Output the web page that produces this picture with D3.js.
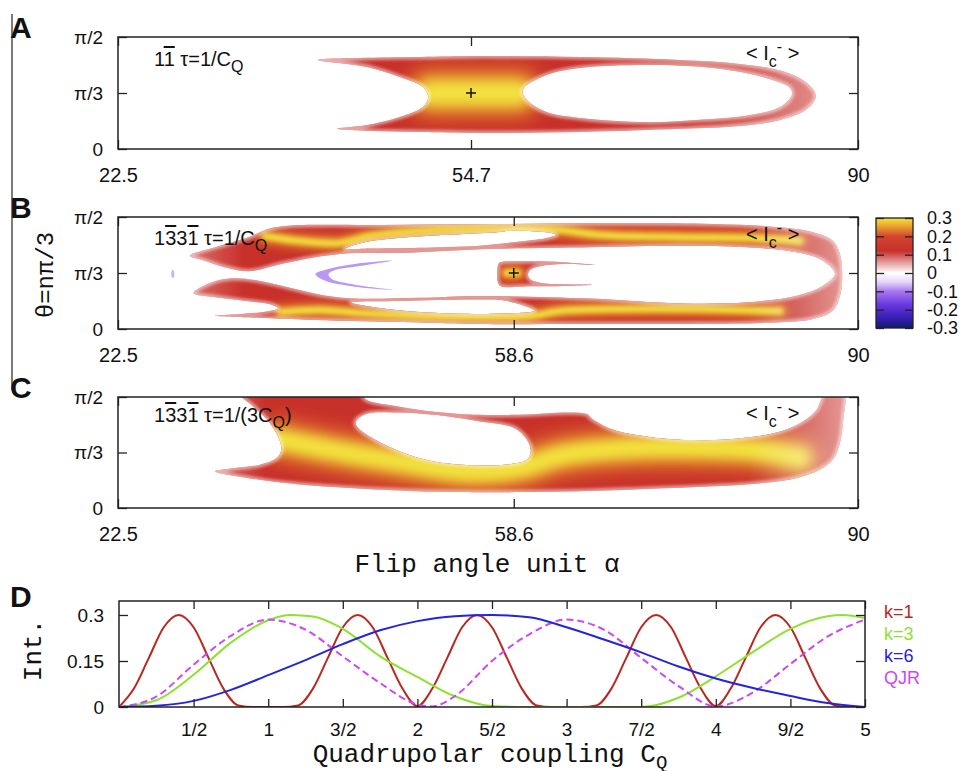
<!DOCTYPE html>
<html>
<head>
<meta charset="utf-8">
<script src="https://cdn.jsdelivr.net/npm/d3@7"></script>
<style>
  body { margin: 0; background: #fff; }
  svg text { font-family: "Liberation Sans", Arial, sans-serif; }
  .mono { font-family: "Liberation Mono", "DejaVu Sans Mono", monospace; }
</style>
</head>
<body>
<svg id="fig" width="960" height="771"></svg>
<script>
// ---------- data ----------
const alphaDomain = [22.5, 90];
const alphaTicksA = [22.5, 54.7, 90];
const alphaTicksBC = [22.5, 58.6, 90];
const thetaTicks = [0, 0.5, 1];
const thetaLabels = ["0", "π/3", "π/2"];

// intensity contours, [flip angle, fraction of theta axis]
const aOuter = [[40.74,0.795],[44.57,0.812],[50.04,0.821],[55.5,0.83],[64.64,0.821],[73.76,0.795],[79.2,0.76],[82.9,0.70],[85.2,0.60],[86.16,0.473],[85.25,0.35],[82.9,0.26],[79.2,0.205],[73.76,0.18],[64.64,0.152],[55.5,0.143],[50.04,0.152],[45.5,0.16],[42.5,0.18],[45.2,0.214],[48.2,0.286],[50.3,0.375],[50.8,0.464],[50.3,0.554],[48.2,0.643],[45.2,0.732]];
const aHole = [[59.4,0.527],[61.6,0.66],[64.64,0.723],[70.7,0.75],[76.8,0.723],[81.3,0.643],[83.8,0.545],[83.97,0.482],[82.9,0.375],[79.9,0.30],[75.3,0.26],[70.7,0.24],[64.64,0.277],[61.6,0.33],[59.8,0.4375]];
const aCore = [[51.0,0.5],[55.3,0.5],[59.0,0.5]];

const bOuter = [[29.07,0.654],[31.35,0.73],[34.4,0.819],[36.2,0.893],[38.0,0.922],[46.55,0.929],[56.9,0.9375],[67.7,0.944],[76.8,0.9375],[82.9,0.908],[85.9,0.863],[87.7,0.788],[88.35,0.67],[88.56,0.49],[88.4,0.3125],[87.7,0.163],[85.9,0.089],[82.9,0.06],[73.76,0.045],[64.6,0.045],[55.5,0.045],[49.6,0.06],[40.5,0.08],[34.4,0.104],[31.35,0.119],[33.8,0.134],[36.2,0.158],[37.1,0.185],[36.5,0.217],[34.4,0.247],[31.35,0.283],[29.4,0.321],[31.05,0.417],[32.9,0.453],[35.0,0.4375],[38.0,0.372],[41.1,0.304],[44.1,0.272],[50.0,0.278],[55.5,0.295],[65.55,0.272],[73.76,0.228],[79.9,0.238],[84.4,0.297],[86.8,0.387],[87.9,0.49],[86.8,0.61],[84.4,0.685],[79.9,0.73],[73.76,0.744],[65.55,0.73],[55.5,0.712],[48.2,0.679],[43.5,0.676],[40.5,0.64],[37.4,0.58],[34.4,0.515],[32.3,0.55],[30.4,0.61]];
const bHoleUp = [[43.2,0.714],[45.0,0.774],[48.1,0.8125],[52.6,0.842],[56.9,0.862],[58.6,0.878],[61.6,0.863],[62.45,0.842],[61.6,0.8125],[58.6,0.774],[55.5,0.744],[50.0,0.725],[45.5,0.718]];
const bHoleLow = [[43.8,0.237],[48.2,0.25],[55.5,0.263],[58.0,0.25],[60.5,0.163],[57.3,0.138],[55.5,0.134],[50.0,0.152],[46.4,0.1875]];
const bIsland = [[57.34,0.595],[60.1,0.604],[63.1,0.595],[66.0,0.571],[63.1,0.58],[61.0,0.56],[60.1,0.527],[59.9,0.485],[60.1,0.444],[61.0,0.413],[63.1,0.399],[65.7,0.396],[63.1,0.384],[60.1,0.381],[57.34,0.387],[57.1,0.446],[57.1,0.52],[57.2,0.58]];
const bNegArc = [[47.46,0.61],[44.1,0.58],[41.7,0.536],[40.5,0.49],[41.4,0.43],[44.1,0.378],[47.8,0.348],[44.1,0.396],[42.0,0.446],[41.7,0.49],[42.3,0.527],[44.1,0.556]];
const bNegDot = [27.5, 0.49];
const bCoreUp = [[35.9,0.83],[39.1,0.786],[42.7,0.768],[45.5,0.83],[50.0,0.875],[55.5,0.893],[61.9,0.893],[66.5,0.84],[73.8,0.82],[80.1,0.8125],[84.7,0.786]];
const bCoreLow = [[37.3,0.152],[40.9,0.17],[44.6,0.143],[50.0,0.116],[55.5,0.107],[60.1,0.116],[62.8,0.16],[68.3,0.179],[75.6,0.179],[82.9,0.16]];
const bCoreIsland = [[57.9,0.5],[59.0,0.5]];

const cOuter = [[33.6,1.03],[44.6,1.03],[45.2,0.973],[48.2,0.913],[51.3,0.868],[55.5,0.839],[58.6,0.839],[65.2,0.848],[65.8,0.80],[67.7,0.704],[70.7,0.644],[73.76,0.614],[78.3,0.62],[82.3,0.674],[84.7,0.764],[86.2,0.883],[87.0,1.03],[88.7,1.03],[88.65,0.794],[88.35,0.585],[87.7,0.435],[86.5,0.345],[84.4,0.271],[81.4,0.226],[76.8,0.196],[70.7,0.172],[64.6,0.151],[55.5,0.142],[51.3,0.148],[45.2,0.172],[39.1,0.211],[34.8,0.262],[31.35,0.33],[33.0,0.357],[35.45,0.39],[36.97,0.45],[37.4,0.525],[37.1,0.644],[36.1,0.794],[34.85,0.913]];
const cHole = [[44.2,0.778],[45.2,0.848],[48.2,0.86],[51.3,0.839],[55.5,0.78],[58.6,0.722],[59.8,0.614],[60.15,0.51],[59.8,0.435],[58.6,0.40],[55.5,0.384],[51.3,0.42],[48.2,0.51],[45.2,0.66],[44.3,0.734]];
const cCore = [[37.3,0.614],[41.8,0.525],[48.2,0.417],[54.6,0.327],[59.2,0.363],[62.8,0.471],[68.3,0.534],[75.6,0.543],[81.1,0.516],[84.7,0.453]];

// colour bar
const cbValues = [0.3, 0.2, 0.1, 0, -0.1, -0.2, -0.3];
const cbLabels = ["0.3", "0.2", "0.1", "0", "-0.1", "-0.2", "-0.3"];
const cbStops = [[0.3,"#f4e63a"],[0.25,"#e89a30"],[0.2,"#d2452e"],[0.12,"#c8302c"],[0.05,"#e8a8a8"],[0,"#ffffff"],[-0.05,"#e4d4fa"],[-0.1,"#a878f2"],[-0.17,"#6a3ae0"],[-0.24,"#3a20b8"],[-0.3,"#141a6e"]];

// panel D
const cqTicks = [0.5, 1, 1.5, 2, 2.5, 3, 3.5, 4, 4.5, 5];
const cqLabels = ["1/2", "1", "3/2", "2", "5/2", "3", "7/2", "4", "9/2", "5"];
const intTicks = [0, 0.15, 0.3];
const intLabels = ["0", "0.15", "0.3"];
const k1 = [[0,0],[0.1,0.06],[0.2,0.16],[0.3,0.26],[0.4,0.30],[0.5,0.26],[0.6,0.16],[0.7,0.06],[0.8,0.005],[0.9,0],[1.0,0],[1.1,0],[1.2,0.005],[1.3,0.06],[1.4,0.16],[1.5,0.26],[1.6,0.30],[1.7,0.26],[1.8,0.16],[1.9,0.06],[2.0,0.003],[2.1,0.06],[2.2,0.16],[2.3,0.26],[2.4,0.30],[2.5,0.26],[2.6,0.16],[2.7,0.06],[2.8,0.005],[2.9,0],[3.0,0],[3.1,0],[3.2,0.005],[3.3,0.06],[3.4,0.16],[3.5,0.26],[3.6,0.30],[3.7,0.26],[3.8,0.16],[3.9,0.06],[4.0,0.003],[4.1,0.06],[4.2,0.16],[4.3,0.26],[4.4,0.30],[4.5,0.26],[4.6,0.16],[4.7,0.06],[4.8,0.005],[4.9,0],[5.0,0]];
const k3 = [[0,0],[0.25,0.022],[0.5,0.105],[0.75,0.21],[1.0,0.283],[1.15,0.30],[1.3,0.295],[1.5,0.255],[1.75,0.165],[2.0,0.098],[2.25,0.035],[2.5,0.003],[2.75,0],[3.0,0],[3.25,0],[3.5,0],[3.75,0.03],[4.0,0.10],[4.25,0.18],[4.5,0.255],[4.75,0.296],[4.85,0.30],[5.0,0.29]];
const k6 = [[0,0],[0.25,0.004],[0.5,0.02],[0.75,0.056],[1.0,0.104],[1.25,0.153],[1.5,0.205],[1.75,0.25],[2.0,0.28],[2.25,0.296],[2.5,0.30],[2.75,0.293],[3.0,0.26],[3.25,0.22],[3.5,0.178],[3.75,0.132],[4.0,0.093],[4.25,0.062],[4.5,0.036],[4.75,0.013],[5.0,0]];
const qjr = [[0,0],[0.25,0.034],[0.5,0.138],[0.75,0.232],[1.0,0.285],[1.25,0.252],[1.5,0.165],[1.75,0.078],[2.0,0.008],[2.1,0.002],[2.25,0.035],[2.5,0.15],[2.75,0.237],[3.0,0.285],[3.25,0.252],[3.5,0.16],[3.75,0.068],[4.0,0.002],[4.25,0.048],[4.5,0.14],[4.75,0.23],[5.0,0.285]];
const seriesNames = ["k=1", "k=3", "k=6", "QJR"];

// ---------- drawing ----------
const svg = d3.select("#fig");
const defs = svg.append("defs");
const ink = "#222";
const heatRed = "#c8302a", heatOrange = "#e27a2c", heatYellow = "#f3e33c";

function blurFilter(id, sd) {
  defs.append("filter").attr("id", id)
    .attr("filterUnits", "userSpaceOnUse")
    .attr("x", 0).attr("y", 0).attr("width", 960).attr("height", 771)
    .append("feGaussianBlur").attr("stdDeviation", sd);
}
blurFilter("feather", 1.6);

function richText(parent, x, y, size, parts) {
  const t = parent.append("text").attr("x", x).attr("y", y)
    .attr("font-size", size).attr("fill", "#111");
  parts.forEach(p => {
    const s = t.append("tspan").text(p.t);
    if (p.over) s.style("text-decoration", "overline");
    if (p.dy) s.attr("dy", p.dy);
    if (p.fs) s.attr("font-size", p.fs);
  });
  return t;
}

function styleAxis(g, size) {
  g.select(".domain").remove();
  g.attr("font-family", null).attr("font-size", size);
  g.selectAll("line").attr("stroke", ink).attr("stroke-width", 1.3);
  g.selectAll("text").attr("fill", "#111");
}

const heatPanels = [
  { key: "A", top: 37, bottom: 149, xTicks: alphaTicksA, shapes: [aOuter, aHole],
    cores: [aCore], coreW: 28, haloW: 52, coreBlur: 7, haloBlur: 9,
    fade: [[40, 0.3], [46, 0], [74, 0], [86.5, 0.45]], marker: [54.7, 0.5],
    label: [{t:"1"},{t:"1",over:true},{t:" τ=1/C"},{t:"Q",dy:6,fs:16}], labelY: 66, icY: 60 },
  { key: "B", top: 217, bottom: 329, xTicks: alphaTicksBC, shapes: [bOuter, bHoleUp, bHoleLow, bIsland],
    cores: [bCoreUp, bCoreLow, bCoreIsland], coreW: 7, haloW: 16, coreBlur: 2.5, haloBlur: 4,
    fade: [[29, 0.3], [34, 0], [80, 0], [88.8, 0.5]], marker: [58.6, 0.5],
    label: [{t:"1"},{t:"3",over:true},{t:"3"},{t:"1",over:true},{t:" τ=1/C"},{t:"Q",dy:6,fs:16}], labelY: 245, icY: 241 },
  { key: "C", top: 397, bottom: 508, xTicks: alphaTicksBC, shapes: [cOuter, cHole],
    cores: [cCore], coreW: 22, haloW: 44, coreBlur: 6, haloBlur: 8,
    fade: [[31, 0.3], [36, 0], [80, 0], [88.8, 0.5]], marker: null,
    label: [{t:"1"},{t:"3",over:true},{t:"3"},{t:"1",over:true},{t:" τ=1/(3C"},{t:"Q",dy:6,fs:16},{t:")",dy:-6}], labelY: 422, icY: 420 }
];

heatPanels.forEach(p => {
  const x = d3.scaleLinear().domain(alphaDomain).range([118, 858]);
  const y = d3.scaleLinear().domain([0, 1]).range([p.bottom, p.top]);
  const shape = d3.line().x(d => x(d[0])).y(d => y(d[1])).curve(d3.curveCatmullRomClosed.alpha(0.5));
  const spine = d3.line().x(d => x(d[0])).y(d => y(d[1])).curve(d3.curveCatmullRom.alpha(0.5));
  const region = p.shapes.map(s => shape(s)).join("");

  blurFilter("core" + p.key, p.coreBlur);
  blurFilter("halo" + p.key, p.haloBlur);
  defs.append("clipPath").attr("id", "frame" + p.key).append("rect")
    .attr("x", 118).attr("y", p.top).attr("width", 740).attr("height", p.bottom - p.top);
  defs.append("clipPath").attr("id", "region" + p.key).append("path")
    .attr("d", region).attr("clip-rule", "evenodd");
  const grad = defs.append("linearGradient").attr("id", "fade" + p.key)
    .attr("gradientUnits", "userSpaceOnUse").attr("x1", 118).attr("x2", 858).attr("y1", 0).attr("y2", 0);
  p.fade.forEach(f => grad.append("stop")
    .attr("offset", (f[0] - 22.5) / 67.5).attr("stop-color", "#fff").attr("stop-opacity", f[1]));

  const heat = svg.append("g").attr("clip-path", `url(#frame${p.key})`)
    .append("g").attr("clip-path", `url(#region${p.key})`);
  heat.append("rect").attr("x", 118).attr("y", p.top - 5).attr("width", 740)
    .attr("height", p.bottom - p.top + 10).attr("fill", heatRed);
  p.cores.forEach(c => heat.append("path").attr("d", spine(c)).attr("fill", "none")
    .attr("stroke", heatOrange).attr("stroke-width", p.haloW).attr("stroke-linecap", "round")
    .attr("stroke-opacity", 0.85).attr("filter", `url(#halo${p.key})`));
  p.cores.forEach(c => heat.append("path").attr("d", spine(c)).attr("fill", "none")
    .attr("stroke", heatYellow).attr("stroke-width", p.coreW).attr("stroke-linecap", "round")
    .attr("filter", `url(#core${p.key})`));
  heat.append("rect").attr("x", 118).attr("y", p.top - 5).attr("width", 740)
    .attr("height", p.bottom - p.top + 10).attr("fill", `url(#fade${p.key})`);
  heat.append("path").attr("d", region).attr("fill", "none").attr("stroke", "#fff")
    .attr("stroke-width", 5).attr("stroke-opacity", 0.5).attr("filter", "url(#feather)");

  if (p.key === "B") {
    const neg = d3.line().x(d => x(d[0])).y(d => y(d[1])).curve(d3.curveCatmullRomClosed.alpha(0.5));
    svg.append("path").attr("d", neg(bNegArc)).attr("fill", "#b48cf2").attr("opacity", 0.9);
    svg.append("ellipse").attr("cx", x(bNegDot[0])).attr("cy", y(bNegDot[1]))
      .attr("rx", 1.5).attr("ry", 4).attr("fill", "#c8b4f4");
  }

  if (p.marker) {
    const mx = x(p.marker[0]), my = y(p.marker[1]);
    svg.append("path").attr("d", `M${mx - 5},${my}H${mx + 5}M${mx},${my - 5}V${my + 5}`)
      .attr("stroke", "#111").attr("stroke-width", 1.5);
  }

  // axes
  svg.append("g").attr("transform", `translate(0,${p.bottom})`)
    .call(d3.axisBottom(x).tickValues(p.xTicks).tickFormat(d => d).tickSize(-9).tickPadding(19))
    .call(g => styleAxis(g, 20));
  svg.append("g").attr("transform", `translate(0,${p.top})`)
    .call(d3.axisTop(x).tickValues(p.xTicks).tickFormat("").tickSize(-9))
    .call(g => styleAxis(g, 20));
  svg.append("g").attr("transform", "translate(118,0)")
    .call(d3.axisLeft(y).tickValues(thetaTicks).tickFormat((d, i) => thetaLabels[i]).tickSize(-9).tickPadding(15))
    .call(g => styleAxis(g, 19));
  svg.append("g").attr("transform", "translate(858,0)")
    .call(d3.axisRight(y).tickValues(thetaTicks).tickFormat("").tickSize(-9))
    .call(g => styleAxis(g, 19));
  svg.append("rect").attr("x", 118).attr("y", p.top).attr("width", 740)
    .attr("height", p.bottom - p.top).attr("fill", "none").attr("stroke", ink).attr("stroke-width", 1.5);

  richText(svg, 154, p.labelY, 20, p.label);
  richText(svg, 746, p.icY, 20, [{t:"< I"},{t:"c",dy:7,fs:16},{t:"-",dy:-15,fs:16},{t:" >",dy:8}]);
  svg.append("text").attr("x", 10).attr("y", p.top + 1).attr("font-size", 30)
    .attr("font-weight", "bold").attr("fill", "#111").text(p.key);
});

// colour bar
const cb = d3.scaleLinear().domain([-0.3, 0.3]).range([328, 218]);
const cbGrad = defs.append("linearGradient").attr("id", "cbGrad")
  .attr("gradientUnits", "userSpaceOnUse").attr("x1", 0).attr("x2", 0)
  .attr("y1", cb(0.3)).attr("y2", cb(-0.3));
cbStops.forEach(s => cbGrad.append("stop").attr("offset", (0.3 - s[0]) / 0.6).attr("stop-color", s[1]));
svg.append("rect").attr("x", 876).attr("y", cb(0.3)).attr("width", 37)
  .attr("height", cb(-0.3) - cb(0.3)).attr("fill", "url(#cbGrad)").attr("stroke", ink).attr("stroke-width", 1.3);
svg.append("g").attr("transform", "translate(876,0)")
  .call(d3.axisLeft(cb).tickValues(cbValues).tickFormat("").tickSize(-8))
  .call(g => styleAxis(g, 18));
svg.append("g").attr("transform", "translate(913,0)")
  .call(d3.axisRight(cb).tickValues(cbValues).tickFormat("").tickSize(-8))
  .call(g => styleAxis(g, 18));
svg.selectAll(".cbLabel").data(cbValues).enter().append("text")
  .attr("x", 927).attr("y", d => cb(d)).attr("dy", "0.35em")
  .attr("font-size", 18).attr("fill", "#111")
  .text((d, i) => cbLabels[i]);

// axis titles of A-C
svg.append("text").attr("class", "mono").attr("x", 487).attr("y", 572)
  .attr("text-anchor", "middle").attr("font-size", 26).attr("fill", "#111").text("Flip angle unit α");
svg.append("text").attr("class", "mono").attr("transform", "translate(53,275) rotate(-90)")
  .attr("text-anchor", "middle").attr("font-size", 24).attr("fill", "#111").text("θ=nπ/3");
svg.append("line").attr("x1", 12).attr("x2", 12).attr("y1", 14).attr("y2", 390)
  .attr("stroke", ink).attr("stroke-width", 1.2);

// ---------- panel D ----------
const dx = d3.scaleLinear().domain([0, 5]).range([119, 865]);
const dy = d3.scaleLinear().domain([0, 0.3456]).range([707, 601]);
const color = d3.scaleOrdinal().domain(seriesNames).range(["#b8281e", "#8ee032", "#2424dc", "#c84af0"]);
const curve = d3.line().x(d => dx(d[0])).y(d => dy(d[1])).curve(d3.curveMonotoneX);

defs.append("clipPath").attr("id", "clipD").append("rect")
  .attr("x", 119).attr("y", 601).attr("width", 746).attr("height", 106);
const plotD = svg.append("g").attr("clip-path", "url(#clipD)");
[[k1, "k=1"], [k3, "k=3"], [qjr, "QJR"], [k6, "k=6"]].forEach(([values, key]) => {
  plotD.append("path").datum(values).attr("d", curve)
    .style("fill", "none").style("stroke", color(key)).style("stroke-width", 2)
    .style("stroke-dasharray", key === "QJR" ? "7,4" : null);
});

svg.append("g").attr("transform", "translate(0,707)")
  .call(d3.axisBottom(dx).tickValues(cqTicks).tickFormat((d, i) => cqLabels[i]).tickSize(-8).tickPadding(16))
  .call(g => styleAxis(g, 19));
svg.append("g").attr("transform", "translate(0,601)")
  .call(d3.axisTop(dx).tickValues(cqTicks).tickFormat("").tickSize(-8))
  .call(g => styleAxis(g, 19));
svg.append("g").attr("transform", "translate(119,0)")
  .call(d3.axisLeft(dy).tickValues(intTicks).tickFormat((d, i) => intLabels[i]).tickSize(-9).tickPadding(15))
  .call(g => styleAxis(g, 19));
svg.append("g").attr("transform", "translate(865,0)")
  .call(d3.axisRight(dy).tickValues(intTicks).tickFormat("").tickSize(-9))
  .call(g => styleAxis(g, 19));
svg.append("rect").attr("x", 119).attr("y", 601).attr("width", 746).attr("height", 106)
  .attr("fill", "none").attr("stroke", ink).attr("stroke-width", 1.5);

const legend = svg.append("g").attr("transform", "translate(884,618)");
seriesNames.forEach((key, i) => {
  legend.append("text").attr("x", 0).attr("y", i * 22)
    .attr("font-size", 18).attr("fill", color(key)).text(key);
});

svg.append("text").attr("x", 10).attr("y", 607).attr("font-size", 30)
  .attr("font-weight", "bold").attr("fill", "#111").text("D");
svg.append("text").attr("class", "mono").attr("transform", "translate(41,650) rotate(-90)")
  .attr("text-anchor", "middle").attr("font-size", 26).attr("fill", "#111").text("Int.");
const xt = svg.append("text").attr("class", "mono").attr("x", 490).attr("y", 762)
  .attr("text-anchor", "middle").attr("font-size", 26).attr("fill", "#111");
xt.append("tspan").text("Quadrupolar coupling C");
xt.append("tspan").attr("dy", 6).attr("font-size", 19).text("Q");
</script>
</body>
</html>
